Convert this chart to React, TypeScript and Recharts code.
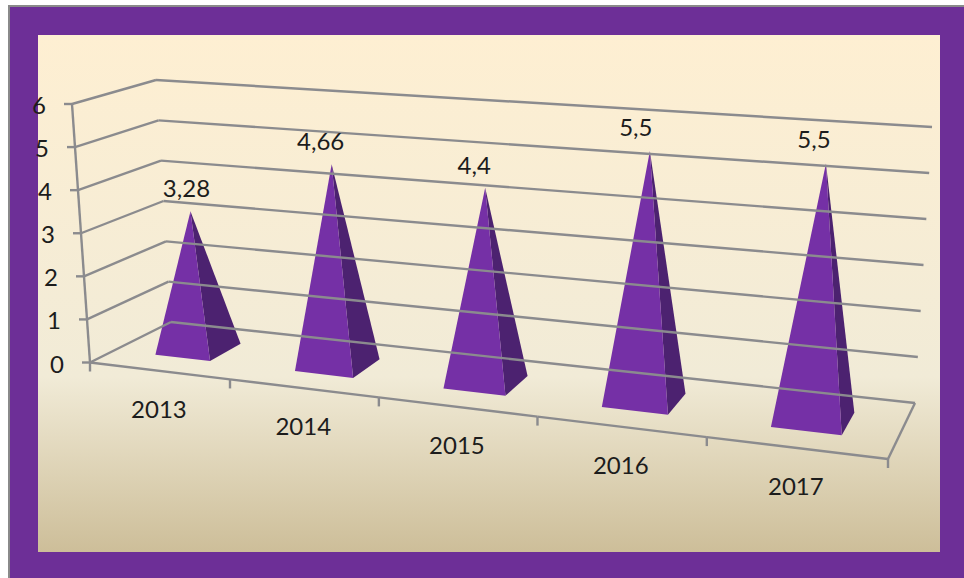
import React from "react"
import { BarChart, Bar, XAxis, YAxis, LabelList } from "recharts"

const years = ["2013", "2014", "2015", "2016", "2017"]
const values = [3.28, 4.66, 4.4, 5.5, 5.5]
const valueTicks = [0, 1, 2, 3, 4, 5, 6]

const chartData = years.map((year, i) => ({ year, value: values[i] }))

const WIDTH = 964
const HEIGHT = 578
const M = 100
const PLOT_W = WIDTH - M * 2
const PLOT_H = HEIGHT - M * 2
const FONT = "Lato, sans-serif"
const LINE = "#8b8b8e"

// corners of the 3d box on screen
const floorFL = [90, 362.5]
const floorFR = [888, 459]
const floorBL = [171, 322]
const floorBR = [915, 403]
const topFL = [72, 104]
const topFR = [908, 167]
const topBL = [156, 80]
const topBR = [932, 127]

const lerp = (a: number[], b: number[], t: number) => [a[0] + (b[0] - a[0]) * t, a[1] + (b[1] - a[1]) * t]

// perspective squeeze along the x axis
const warp = (u: number) => u / (u + 1.175 * (1 - u))

// u along categories, d depth from front to back, v height, all 0..1
const project = (u: number, d: number, v: number) => {
  const w = warp(u)
  const floor = lerp(lerp(floorFL, floorFR, w), lerp(floorBL, floorBR, w), d)
  const top = lerp(lerp(topFL, topFR, w), lerp(topBL, topBR, w), d)
  return lerp(floor, top, v)
}

const poly = (pts: number[][]) => pts.map((p) => p.join(",")).join(" ")

const Seg = ({ a, b }: { a: number[]; b: number[] }) => (
  <line x1={a[0]} y1={a[1]} x2={b[0]} y2={b[1]} stroke={LINE} strokeWidth={2.4} />
)

const YTick = (props: any) => {
  const v = (HEIGHT - M - props.y) / PLOT_H
  const front = project(0, 0, v)
  const back = project(0, 1, v)
  const right = project(1, 1, v)
  return (
    <g>
      {props.payload.value === 0 && <Seg a={project(0, 0, 0)} b={project(0, 0, 1)} />}
      <Seg a={[front[0] - 8, front[1]]} b={front} />
      <Seg a={front} b={back} />
      <Seg a={back} b={right} />
      <text x={front[0] - 33} y={front[1] + 10} textAnchor="middle" fontFamily={FONT} fontSize={24} fill="#1c1c1c">
        {props.payload.value}
      </text>
    </g>
  )
}

const XTick = (props: any) => {
  const u = (props.x - M) / PLOT_W
  const step = 1 / years.length
  const left = project(u - step / 2, 0, 0)
  const right = project(u + step / 2, 0, 0)
  const center = project(u, 0, 0)
  const last = props.index === years.length - 1
  return (
    <g>
      <Seg a={left} b={right} />
      <Seg a={left} b={[left[0], left[1] + 9]} />
      {last && <Seg a={right} b={[right[0], right[1] + 9]} />}
      {last && <Seg a={right} b={project(1, 1, 0)} />}
      <text x={center[0]} y={center[1] + 47} textAnchor="middle" fontFamily={FONT} fontSize={24} fill="#1c1c1c">
        {props.payload.value}
      </text>
    </g>
  )
}

const Pyramid = (props: any) => {
  const { x, y, width } = props
  const u0 = (x - M) / PLOT_W
  const u1 = (x + width - M) / PLOT_W
  const v = (HEIGHT - M - y) / PLOT_H
  const a = project(u0, 0.31, 0)
  const b = project(u1, 0.31, 0)
  const c = project(u1, 0.72, 0)
  const apex = project((u0 + u1) / 2, 0.51, v)
  return (
    <g>
      <polygon points={poly([b, c, apex])} fill="#4c2270" />
      <polygon points={poly([a, b, apex])} fill="#7530a6" />
    </g>
  )
}

const labelShift = [-4, -11, -11, -14, -12]
const labelLift = [14, 14, 14, 15, 16]

const ValueLabel = (props: any) => {
  const { x, y, width, value, index } = props
  const u = (x + width / 2 - M) / PLOT_W
  const v = (HEIGHT - M - y) / PLOT_H
  const apex = project(u, 0.51, v)
  return (
    <text
      x={apex[0] + labelShift[index]}
      y={apex[1] - labelLift[index]}
      textAnchor="middle"
      fontFamily={FONT}
      fontSize={24}
      fill="#1c1c1c"
    >
      {String(value).replace(".", ",")}
    </text>
  )
}

export default function App() {
  return (
    <div style={{ position: "absolute", left: 0, top: 0, width: WIDTH, height: HEIGHT, background: "#fff", overflow: "hidden" }}>
      <div
        style={{
          position: "absolute",
          left: 8,
          top: 5,
          right: 0,
          bottom: 0,
          background: "#6d2f97",
          borderLeft: "2px solid #8a8a8a",
          borderTop: "2px solid #8a8a8a",
        }}
      />
      <div
        style={{
          position: "absolute",
          left: 38,
          top: 35,
          width: 902,
          height: 517,
          background: "linear-gradient(180deg, #feefd2 0%, #f1ebd7 66%, #cdbe99 100%)",
        }}
      />
      <div style={{ position: "absolute", left: 0, top: 0 }}>
        <BarChart
          width={WIDTH}
          height={HEIGHT}
          data={chartData}
          margin={{ top: M, right: M, bottom: M - 1, left: M - 1 }}
          barCategoryGap="30%"
        >
          <YAxis
            type="number"
            width={1}
            domain={[0, 6]}
            ticks={valueTicks}
            interval={0}
            axisLine={false}
            tickLine={false}
            tick={YTick}
          />
          <XAxis dataKey="year" height={1} interval={0} axisLine={false} tickLine={false} tick={XTick} />
          <Bar dataKey="value" isAnimationActive={false} shape={Pyramid}>
            <LabelList dataKey="value" content={ValueLabel} />
          </Bar>
        </BarChart>
      </div>
    </div>
  )
}
